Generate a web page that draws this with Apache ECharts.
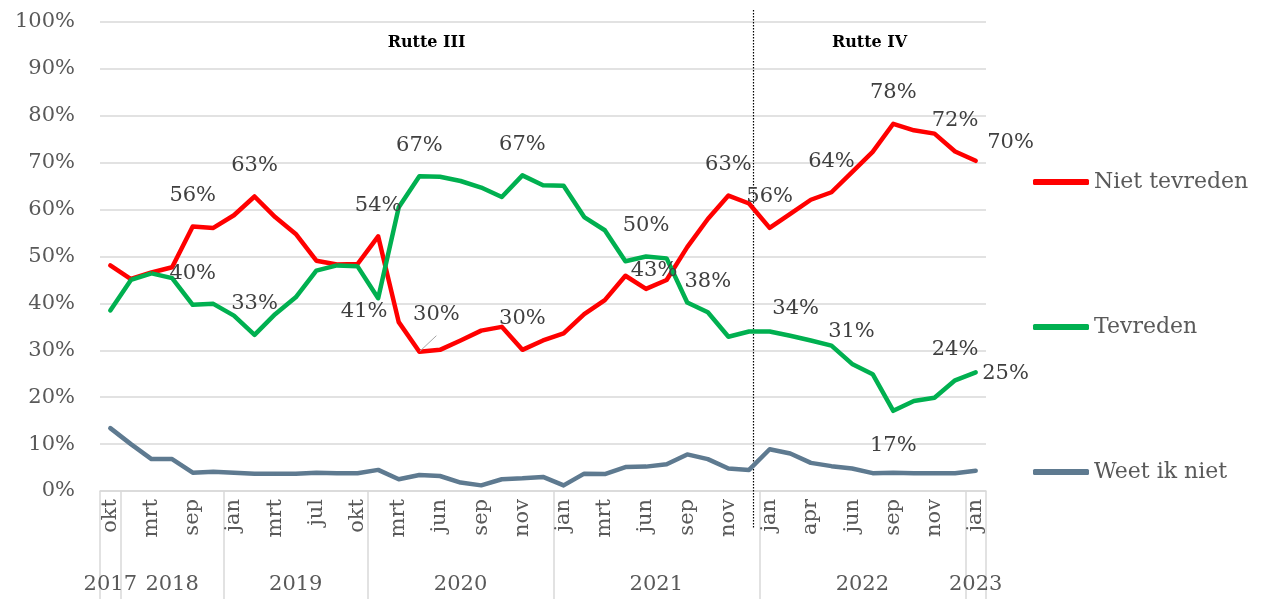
<!DOCTYPE html>
<html>
<head>
<meta charset="utf-8">
<script src="https://cdn.jsdelivr.net/npm/echarts@6/dist/echarts.min.js"></script>
<style>
  html, body { margin: 0; padding: 0; background: #fff; }
  #chart { width: 1267px; height: 599px; }
</style>
</head>
<body>
<div id="chart"></div>
<script>
// peilmomenten, per jaar gegroepeerd
const months = [
    'okt',
    'jan', 'mrt', 'jun', 'sep', 'dec',
    'jan', 'feb', 'mrt', 'mei', 'jul', 'sep', 'okt',
    'jan', 'mrt', 'apr', 'jun', 'jul', 'sep', 'okt', 'nov', 'dec',
    'jan', 'feb', 'mrt', 'mei', 'jun', 'jul', 'sep', 'okt', 'nov', 'dec',
    'jan', 'mrt', 'apr', 'mei', 'jun', 'jul', 'sep', 'okt', 'nov', 'dec',
    'jan'
];
const yearNames = ['2017', '2018', '2019', '2020', '2021', '2022', '2023'];
const yearCounts = [1, 5, 7, 9, 10, 10, 1];

const nietTevreden = [
    48.1, 45.2, 46.6, 47.7, 56.4, 56.1, 58.8, 62.8, 58.4, 54.8, 49.1, 48.3, 48.4,
    54.3, 36.0, 29.7, 30.1, 32.1, 34.2, 35.0, 30.1, 32.1,
    33.6, 37.7, 40.7, 45.9, 43.1, 45.0, 52.0, 58.0, 63.0, 61.3,
    56.1, 59.1, 62.1, 63.7, 68.0, 72.3, 78.3, 76.9, 76.2, 72.4,
    70.4
];
const tevreden = [
    38.5, 45.0, 46.4, 45.4, 39.7, 39.9, 37.4, 33.3, 37.7, 41.3, 47.0, 48.1, 47.9,
    41.1, 60.5, 67.1, 67.0, 66.1, 64.7, 62.7, 67.3, 65.2,
    65.1, 58.4, 55.6, 49.0, 50.0, 49.6, 40.2, 38.1, 32.9, 34.0,
    34.0, 33.1, 32.1, 31.0, 27.1, 24.9, 17.1, 19.2, 19.9, 23.6,
    25.3
];
const weetIkNiet = [
    13.4, 10.0, 6.8, 6.8, 3.9, 4.1, 3.9, 3.7, 3.7, 3.7, 3.9, 3.8, 3.8,
    4.5, 2.5, 3.4, 3.2, 1.8, 1.2, 2.5, 2.7, 3.0,
    1.2, 3.7, 3.6, 5.1, 5.2, 5.7, 7.8, 6.8, 4.8, 4.5,
    8.9, 8.0, 6.0, 5.3, 4.8, 3.8, 3.9, 3.8, 3.8, 3.8,
    4.3
];

const kabinetten = ['Rutte III', 'Rutte IV'];
const kabinetWissel = 31.7;   // plek van de wissel, in peilmomenten vanaf links

// welke punten een label krijgen (positie / verschuiving)
const redLabels = {
    4: {}, 7: {}, 13: {}, 15: { offset: [17, -6], line: true }, 20: {},
    26: { offset: [8, 13] }, 30: {}, 32: {}, 35: {}, 38: {}, 41: {},
    42: { position: 'right', offset: [-9, -18] }
};
const greenLabels = {
    4: {}, 7: {}, 13: { position: 'inside', offset: [-14, 13] }, 15: {}, 20: {},
    26: {}, 29: {}, 32: { offset: [26, 8] }, 35: { offset: [20, 17] },
    38: { position: 'bottom', offset: [0, 4] }, 41: {},
    42: { position: 'right', offset: [-14, 1] }
};

const FONT = 'DejaVu Serif';
const GRID_COLOR = '#d9d9d9';

// jaargrenzen en midden van elk jaar
let acc = 0;
const yearBounds = [0];
const yearCenters = [];
yearCounts.forEach(function (c) {
    yearCenters.push(acc + c / 2);
    acc += c;
    yearBounds.push(acc);
});

function withLabels(values, specs) {
    return values.map(function (v, i) {
        const s = specs[i];
        if (!s) return v;
        return {
            value: v,
            label: { show: true, position: s.position || 'top', offset: s.offset || [0, 0] },
            labelLine: { show: !!s.line, lineStyle: { color: '#a6a6a6', width: 1 } }
        };
    });
}

function lineSeries(name, color, values, specs) {
    return {
        name: name,
        type: 'line',
        data: withLabels(values, specs),
        symbol: 'circle',
        symbolSize: 1,
        showAllSymbol: true,
        itemStyle: { color: color },
        lineStyle: { color: color, width: 4.5, join: 'round', cap: 'round' },
        label: {
            show: false,
            distance: 20,
            color: '#404040',
            fontSize: 21,
            fontFamily: FONT,
            formatter: function (p) { return Math.round(p.value) + '%'; }
        },
        emphasis: { disabled: true }
    };
}

const chart = echarts.init(document.getElementById('chart'));

chart.setOption({
    animation: false,
    backgroundColor: '#fff',
    grid: { left: 100, right: 281, top: 22, bottom: 108 },
    legend: {
        data: ['Niet tevreden', 'Tevreden', 'Weet ik niet'],
        orient: 'vertical',
        left: 1028,
        top: 166,
        itemWidth: 56,
        itemHeight: 6,
        itemGap: 123,
        icon: 'roundRect',
        textStyle: { color: '#595959', fontSize: 22, fontFamily: FONT }
    },
    xAxis: [
        {
            type: 'category',
            data: months,
            boundaryGap: true,
            axisLine: { lineStyle: { color: GRID_COLOR, width: 1.5 } },
            axisTick: { show: false },
            axisLabel: {
                rotate: 90,
                interval: 1,
                margin: 8,
                color: '#595959',
                fontSize: 21,
                fontFamily: FONT
            }
        },
        {
            type: 'value',
            min: 0,
            max: months.length,
            position: 'bottom',
            axisLine: { show: false },
            splitLine: { show: false },
            axisTick: {
                show: true,
                customValues: yearBounds,
                length: 108,
                lineStyle: { color: GRID_COLOR, width: 1.5 }
            },
            axisLabel: {
                customValues: yearCenters,
                margin: 83,
                color: '#595959',
                fontSize: 21,
                fontFamily: FONT,
                formatter: function (v) { return yearNames[yearCenters.indexOf(v)]; }
            }
        },
        {
            type: 'value',
            min: 0,
            max: months.length,
            position: 'top',
            offset: 12,
            axisLine: { show: false },
            splitLine: { show: false },
            axisLabel: { show: false },
            axisTick: {
                show: true,
                inside: true,
                customValues: [kabinetWissel],
                length: 518,
                lineStyle: { color: '#000', width: 1.2, type: [1.5, 1.5] }
            }
        }
    ],
    yAxis: {
        type: 'value',
        min: 0,
        max: 100,
        interval: 10,
        axisLine: { show: false },
        axisTick: { show: false },
        axisLabel: {
            margin: 25,
            color: '#595959',
            fontSize: 21,
            fontFamily: FONT,
            formatter: '{value}%'
        },
        splitLine: { lineStyle: { color: GRID_COLOR, width: 1.5 } }
    },
    series: [
        lineSeries('Niet tevreden', '#ff0000', nietTevreden, redLabels),
        lineSeries('Tevreden', '#00b050', tevreden, greenLabels),
        lineSeries('Weet ik niet', '#5e7a90', weetIkNiet, {}),
        {
            type: 'line',
            xAxisIndex: 2,
            data: [],
            silent: true,
            markArea: {
                silent: true,
                itemStyle: { color: 'rgba(0,0,0,0)' },
                label: {
                    position: 'insideTop',
                    distance: 13,
                    color: '#000',
                    fontWeight: 'bold',
                    fontSize: 16,
                    fontFamily: FONT
                },
                data: [
                    [{ name: kabinetten[0], xAxis: 0 }, { xAxis: kabinetWissel }],
                    [{ name: kabinetten[1], xAxis: kabinetWissel }, { xAxis: months.length }]
                ]
            }
        }
    ]
});
</script>
</body>
</html>
